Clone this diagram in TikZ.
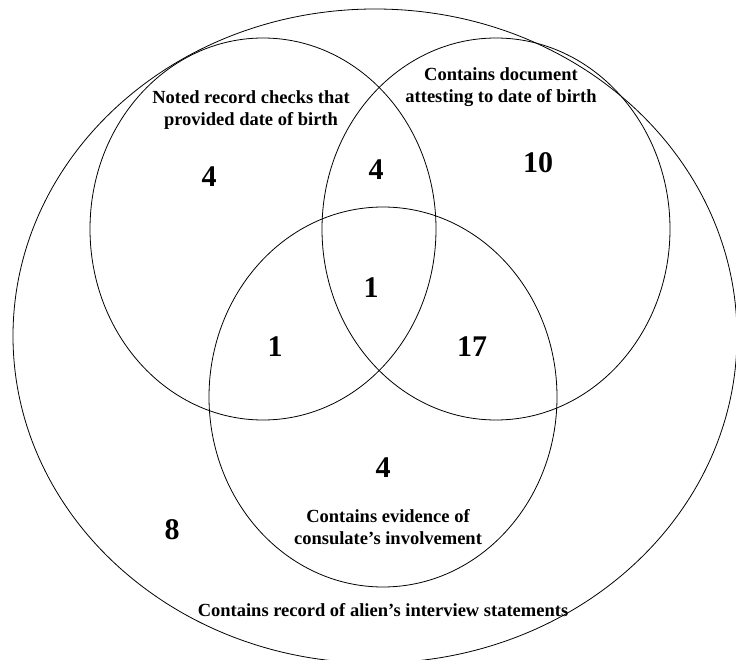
\documentclass[tikz,border=0pt]{standalone}
\usepackage{fontspec}
\setmainfont{Liberation Serif}
\begin{document}
\begin{tikzpicture}[x=1pt,y=-1pt,
    setline/.style={draw=black, line width=0.8pt},
    setlabel/.style={font=\bfseries\fontsize{18.5}{22}\selectfont, align=center, inner sep=0pt},
    count/.style={font=\bfseries\fontsize{30}{34}\selectfont, inner sep=0pt}]

            \useasboundingbox (0,0) rectangle (736,660);

            \draw[setline] (375,336) ellipse [x radius=362, y radius=327];
            \draw[setline] (263,229) ellipse [x radius=173, y radius=191];
            \draw[setline] (496,229) ellipse [x radius=174, y radius=191];
            \draw[setline] (383,397) ellipse [x radius=174, y radius=190];

            \node[setlabel] (checks) at (251,110) {Noted record checks that\\provided date of birth};
            \node[setlabel] (document) at (501,87) {Contains document\\attesting to date of birth};
            \node[setlabel] (consulate) at (388,527) {Contains evidence of\\consulate's involvement};
            \node[setlabel] (interview) at (383,610) {Contains record of alien's interview statements};

            \node[count] (n1) at (209,177) {4}; \node[count] (n2) at (376,170) {4}; \node[count] (n3) at (538,163) {10};
            \node[count] (n4) at (371,288) {1}; \node[count] (n5) at (275,347) {1}; \node[count] (n6) at (472,347) {17};
            \node[count] (n7) at (383,468) {4}; \node[count] (n8) at (172,530) {8};
        \end{tikzpicture}
\end{document}
